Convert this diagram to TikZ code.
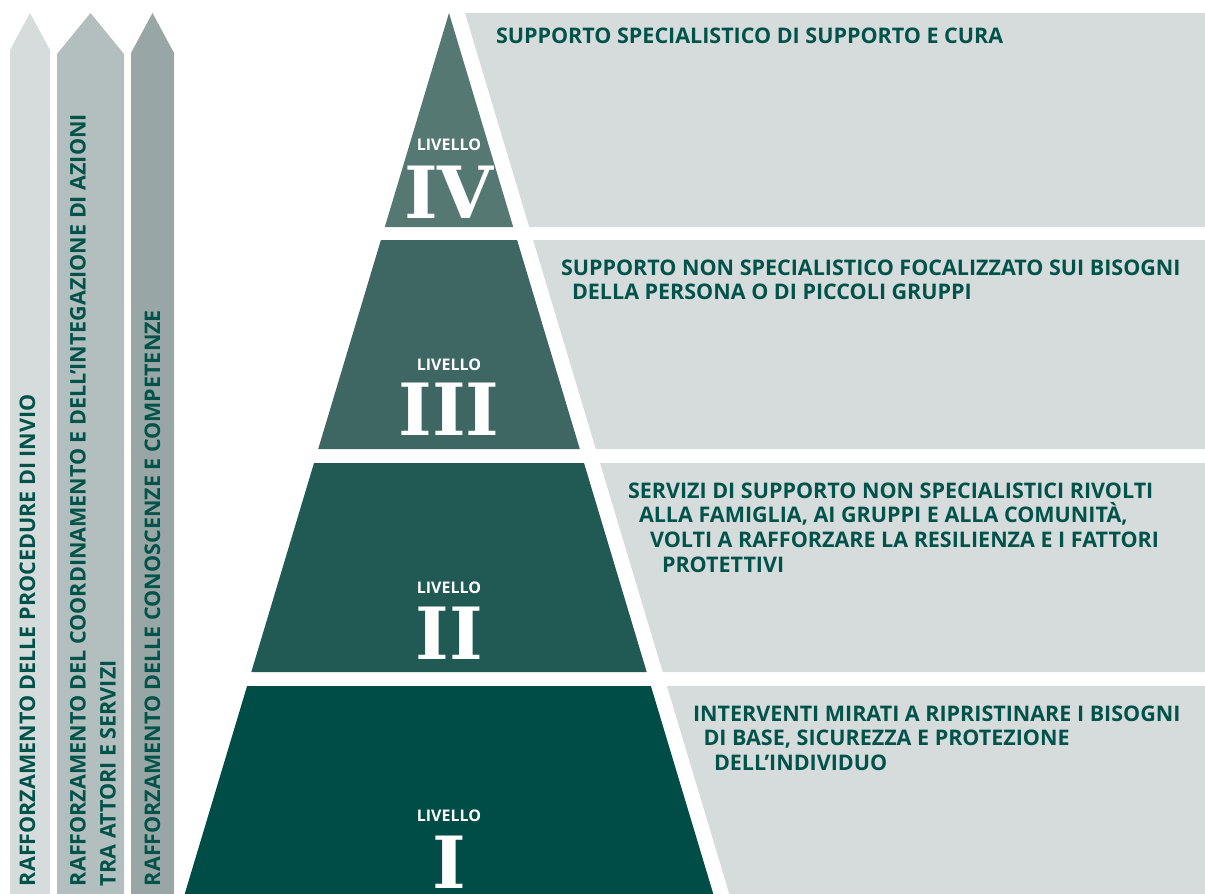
\documentclass[tikz,border=0pt]{standalone}
\usepackage{fontspec}
\setmainfont{Open Sans}
\newfontfamily\slabfont{DejaVu Serif}
\usetikzlibrary{positioning}

\definecolor{verdetesto}{HTML}{00524A}
\definecolor{livelloI}{HTML}{004D47}
\definecolor{livelloII}{HTML}{215A55}
\definecolor{livelloIII}{HTML}{3E6764}
\definecolor{livelloIV}{HTML}{557873}
\definecolor{pannello}{HTML}{D6DCDC}
\definecolor{frecciaA}{HTML}{D6DCDC}
\definecolor{frecciaB}{HTML}{B3BFBE}
\definecolor{frecciaC}{HTML}{98A7A5}

\begin{document}
\begin{tikzpicture}[
        yscale=-1,
        x=1pt,
        y=1pt,
        every node/.style={inner sep=0pt, outer sep=0pt},
        livello/.style={font=\fontsize{16}{16}\selectfont\bfseries, text=white},
        numero/.style={font=\fontsize{72}{72}\slabfont\bfseries, text=white, anchor=base},
        testo/.style={font=\fontsize{21.5}{24.8}\selectfont\bfseries, text=verdetesto,
                align=left, anchor=north west},
        azione/.style={font=\fontsize{21.5}{30}\selectfont\bfseries, text=verdetesto,
                rotate=90, align=left}
    ]
    \useasboundingbox (0,0) rectangle (1205,894);

    % frecce verticali
    \fill[frecciaA] (10,894) -- (10,50) -- (30,13) -- (50,50) -- (50,894) -- cycle;
    \fill[frecciaB] (57,894) -- (57,54) -- (90.5,13) -- (124,54) -- (124,894) -- cycle;
    \fill[frecciaC] (131,894) -- (131,53) -- (152.5,13) -- (174,53) -- (174,894) -- cycle;

    \node[azione, anchor=base west] (invio) at (35,886)
        {RAFFORZAMENTO DELLE PROCEDURE DI INVIO};
    \node[azione, anchor=north west] (coordinamento) at (70,886)
        {RAFFORZAMENTO DEL COORDINAMENTO E DELL’INTEGAZIONE DI AZIONI\\TRA ATTORI E SERVIZI};
    \node[azione, anchor=base west] (competenze) at (160,886)
        {RAFFORZAMENTO DELLE CONOSCENZE E COMPETENZE};

    % piramide
    \fill[livelloIV] (449,13) -- (513.2,227) -- (384.8,227) -- cycle;
    \fill[livelloIII] (380.9,240) -- (517.1,240) -- (579.8,449) -- (318.2,449) -- cycle;
    \fill[livelloII] (314,463) -- (584,463) -- (646.7,672) -- (251.3,672) -- cycle;
    \fill[livelloI] (247.1,686) -- (650.9,686) -- (713.3,894) -- (184.7,894) -- cycle;

    % pannelli
    \fill[pannello] (465,13) -- (1205,13) -- (1205,227) -- (529.2,227) -- cycle;
    \fill[pannello] (533.1,240) -- (1205,240) -- (1205,449) -- (595.8,449) -- cycle;
    \fill[pannello] (600,463) -- (1205,463) -- (1205,672) -- (662.7,672) -- cycle;
    \fill[pannello] (666.9,686) -- (1205,686) -- (1205,894) -- (729.3,894) -- cycle;

    % etichette dei livelli
    \node[livello] (livIV) at (449,145) {LIVELLO};
    \node[numero] (numIV) at (449,218) {IV};
    \node[livello] (livIII) at (449,365) {LIVELLO};
    \node[numero] (numIII) at (449,435) {III};
    \node[livello] (livII) at (449,588) {LIVELLO};
    \node[numero] (numII) at (449,659) {II};
    \node[livello] (livI) at (449,816) {LIVELLO};
    \node[numero] (numI) at (449,888) {I};

    % descrizioni
    \node[testo] (descIV) at (496,27.5) {SUPPORTO SPECIALISTICO DI SUPPORTO E CURA};
    \node[testo] (descIII) at (561,259.5) {
            SUPPORTO NON SPECIALISTICO FOCALIZZATO SUI BISOGNI\\
            \hspace*{11pt}DELLA PERSONA O DI PICCOLI GRUPPI
        };
    \node[testo] (descII) at (628,482.5) {
            SERVIZI DI SUPPORTO NON SPECIALISTICI RIVOLTI\\
            \hspace*{11pt}ALLA FAMIGLIA, AI GRUPPI E ALLA COMUNITÀ,\\
            \hspace*{22pt}VOLTI A RAFFORZARE LA RESILIENZA E I FATTORI\\
            \hspace*{34pt}PROTETTIVI
        };
    \node[testo] (descI) at (693,705.5) {
            INTERVENTI MIRATI A RIPRISTINARE I BISOGNI\\
            \hspace*{10.5pt}DI BASE, SICUREZZA E PROTEZIONE\\
            \hspace*{21pt}DELL’INDIVIDUO
        };
\end{tikzpicture}
\end{document}
